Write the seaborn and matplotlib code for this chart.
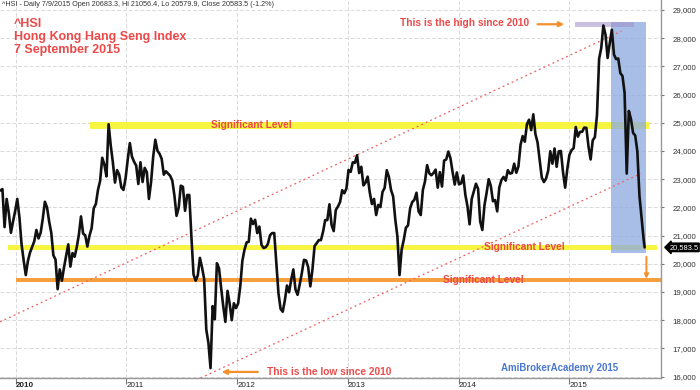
import pandas as pd
import matplotlib
matplotlib.use("Agg")
import matplotlib.pyplot as plt
import matplotlib.transforms as mtransforms
from matplotlib.ticker import FuncFormatter
import seaborn as sns

# weekly closes, one value per Friday
close_2009 = [22600, 22650, 21300, 22300, 21800, 21100, 21500]
close_2010 = [21870, 22300, 21650, 20700, 20120, 19600, 20100, 20400, 20600,
              20800, 21200, 20900, 21100, 21600, 22200, 22000, 21500, 21100,
              20300, 20150, 19100, 19800, 19400, 19870, 20290, 20690, 19900,
              20380, 20250, 20590, 21030, 21680, 21070, 21010, 20610, 21000,
              21260, 21970, 22120, 22620, 22940, 23760, 23520, 23100, 24950,
              24200, 23600, 22880, 23320, 23160, 22710, 22620, 23035]
close_2011 = [23690, 24280, 23800, 23620, 23480, 22830, 23600, 22900, 23400,
              23250, 22300, 22900, 23800, 24400, 24010, 23900, 23720, 23160,
              23280, 23200, 23120, 22950, 22420, 21700, 21990, 22770, 22730,
              21880, 22440, 22440, 20950, 19620, 19400, 19590, 20210, 19870,
              19460, 17670, 17200, 16300, 18500, 18030, 20020, 19840, 19140,
              18490, 17940, 19040, 18590, 18000, 18600, 18430]
close_2012 = [18590, 19200, 20110, 20500, 20760, 20780, 21600, 21410, 21560,
              21090, 21320, 20670, 20560, 20590, 20700, 21010, 21090, 21090,
              20000, 18950, 18400, 18300, 18700, 19230, 18990, 19440, 19800,
              19090, 18900, 19270, 19670, 20140, 20120, 19880, 19200, 19800,
              20630, 20730, 20840, 20840, 21140, 21550, 21550, 22110, 21380,
              21160, 21910, 22030, 22190, 22610, 22500, 22670]
close_2013 = [23330, 23260, 23600, 23580, 23850, 23220, 23440, 22780, 22880,
              23090, 22530, 22120, 22300, 21730, 22090, 22010, 22550, 22690,
              23320, 23080, 22620, 22390, 21580, 20970, 19600, 20500, 20850,
              21280, 21360, 21970, 22190, 22270, 22520, 21860, 21730, 22620,
              22920, 23500, 23210, 23140, 23220, 23340, 22700, 23250, 22740,
              23660, 23700, 23980, 23740, 23250, 22810, 23240]
close_2014 = [22820, 22850, 23130, 22450, 22040, 21400, 22300, 22570, 22840,
              22660, 21500, 21200, 22070, 22510, 23000, 22760, 22220, 22260,
              21860, 22710, 22970, 23080, 22950, 23320, 23200, 23220, 23550,
              23230, 23450, 24220, 24530, 24330, 24950, 25110, 24740, 25300,
              24600, 24310, 23680, 23060, 22900, 23020, 23300, 23990, 23550,
              24090, 23440, 23990, 24000, 23250, 22700, 23350]
close_2015 = [23860, 24030, 24100, 24850, 24510, 24680, 24680, 24830, 24820,
              24160, 23700, 24380, 24490, 25280, 27270, 27650, 28450, 28130,
              27300, 27820, 28300, 27420, 27260, 27280, 26760, 26660, 26060,
              23200, 25420, 25130, 24640, 24550, 23990, 22410, 21610, 20840]
last_date = "2015-09-07"
last_close = 20583.5

year_ticks = ["2010-01-04", "2011-01-03", "2012-01-03", "2013-01-02",
              "2014-01-02", "2015-01-02"]
year_labels = ["2010", "2011", "2012", "2013", "2014", "2015"]
price_ticks = list(range(16000, 29001, 1000))

# horizontal levels: (start, end, low, high)
yellow_bands = [("2010-09-05", "2015-09-23", 24780, 25030),
                ("2009-12-09", "2015-10-18", 20472, 20684)]
orange_band = ("2010-01-04", "2015-11-07", 19337, 19514)
label_pos = [("2011-10-09", 24905), ("2014-03-28", 20578), ("2013-11-12", 19425)]

channel_upper = (["2009-11-12", "2015-06-22"], [17940, 28250])
channel_lower = (["2011-09-04", "2015-08-25"], [15950, 23200])

weekly = close_2009 + close_2010 + close_2011 + close_2012 + close_2013 + close_2014 + close_2015
dates = list(pd.date_range("2009-11-13", periods=len(weekly), freq="W-FRI"))
dates.append(pd.Timestamp(last_date))
df = pd.DataFrame({"date": dates, "close": weekly + [last_close]})

sns.set_theme(style="white")
plt.rcParams["font.family"] = ["Liberation Sans", "DejaVu Sans"]

red = "#ec4a4a"
orange = "#f5a03c"
yellow = "#f7f542"

fig = plt.figure(figsize=(7, 3.9), dpi=100)
ax = fig.add_axes([0, 12 / 390, 661 / 700, 378 / 390])
T = pd.Timestamp

# blue box and purple strip around the 2015 top
ax.fill_between([T("2015-05-20"), T("2015-09-11")], 20383, 28575,
                color="#90ace0", alpha=0.78, lw=0, zorder=2)
ax.fill_between([T("2015-01-22"), T("2015-08-04")], 28408, 28574,
                color="#9f8fc8", alpha=0.55, lw=0, zorder=2.1)

for start, end, lo, hi in yellow_bands:
    ax.fill_between([T(start), T(end)], lo, hi, color=yellow, lw=0, zorder=1)
ax.fill_between([T(orange_band[0]), T(orange_band[1])], orange_band[2], orange_band[3],
                color=orange, lw=0, zorder=1)

for (d, v) in label_pos:
    ax.text(T(d), v, "Significant Level", color=red, fontsize=7.3,
            fontweight="bold", va="center", ha="left", zorder=4)

for xs, ys in (channel_upper, channel_lower):
    ax.plot([T(x) for x in xs], ys, color="#f06060", lw=0.9,
            ls=(0, (1.5, 2.5)), zorder=2.5)

sns.lineplot(data=df, x="date", y="close", color="#111111", lw=1.9,
             ax=ax, zorder=3)

# annotations
ax.text(T("2014-08-21"), 28530, "This is the high since 2010", color=red,
        fontsize=7.3, fontweight="bold", ha="right", va="center")
ax.annotate("", xy=(T("2014-12-16"), 28495), xytext=(T("2014-09-19"), 28495),
            arrowprops=dict(arrowstyle="-|>", color="#f3902c", lw=1.6,
                            mutation_scale=7, shrinkA=0, shrinkB=0))
ax.text(T("2012-04-10"), 16170, "This is the low since 2010", color=red,
        fontsize=7.3, fontweight="bold", ha="left", va="center")
ax.annotate("", xy=(T("2011-11-13"), 16165), xytext=(T("2012-03-11"), 16165),
            arrowprops=dict(arrowstyle="-|>", color="#f3902c", lw=1.6,
                            mutation_scale=7, shrinkA=0, shrinkB=0))
ax.annotate("", xy=(T("2015-09-13"), 19470), xytext=(T("2015-09-13"), 20250),
            arrowprops=dict(arrowstyle="-|>", color="#f3902c", lw=1.4,
                            mutation_scale=6, shrinkA=0, shrinkB=0))

ax.text(T("2014-05-20"), 16290, "AmiBrokerAcademy 2015", color="#4a78d0",
        fontsize=7, fontweight="bold", ha="left", va="center")

ax.text(0.003, 0.997, "^HSI - Daily 7/9/2015 Open 20683.3, Hi 21056.4, Lo 20579.9, "
        "Close 20583.5 (-1.2%)", transform=ax.transAxes, fontsize=5.2,
        color="#333333", ha="left", va="top")
ax.text(0.021, 0.953, "^HSI\nHong Kong Hang Seng Index\n7 September 2015",
        transform=ax.transAxes, fontsize=9, fontweight="bold", color=red,
        ha="left", va="top", linespacing=1.15)

# last price tag
trans = mtransforms.blended_transform_factory(ax.transAxes, ax.transData)
ax.text(1.0125, last_close, "20,583.5", transform=trans, color="white",
        fontsize=5.4, ha="left", va="center", clip_on=False,
        bbox=dict(boxstyle="larrow,pad=0.1", fc="black", ec="black"))

# axes
ax.set_xlim(T("2009-11-12"), T("2015-10-31"))
ax.set_ylim(15950, 29355)
ax.set_xlabel("")
ax.set_ylabel("")
ax.set_xticks([T(d) for d in year_ticks])
ax.set_xticklabels(year_labels)
for lbl in ax.get_xticklabels():
    lbl.set_ha("left")
ax.get_xticklabels()[0].set_fontweight("bold")
ax.set_yticks(price_ticks)
ax.yaxis.set_major_formatter(FuncFormatter(lambda v, p: f"{int(v):,}"))
ax.yaxis.tick_right()
ax.tick_params(axis="y", which="major", right=True, length=2.5, width=0.8,
               color="#777777", pad=6, labelsize=5.7, labelcolor="#333333")
ax.tick_params(axis="x", which="major", bottom=True, length=4, width=0.8,
               color="#777777", pad=-1.0, labelsize=5.8, labelcolor="#222222")
ax.grid(True, color="#d9d9d9", lw=0.7, ls=(0, (4, 2)))
ax.set_axisbelow(True)
for side in ("top", "left"):
    ax.spines[side].set_visible(False)
for side in ("right", "bottom"):
    ax.spines[side].set_color("#999999")
    ax.spines[side].set_linewidth(1.0)

fig.savefig("out.png", dpi=100)
